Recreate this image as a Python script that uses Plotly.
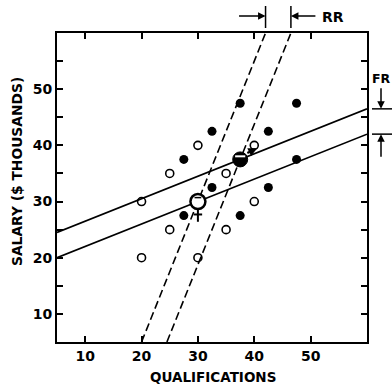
import plotly.graph_objects as go

# ---- data ----
female_q = [20, 20, 25, 25, 30, 30, 35, 35, 40, 40]
female_s = [30, 20, 35, 25, 40, 20, 35, 25, 40, 30]
male_q = [27.5, 27.5, 32.5, 32.5, 37.5, 37.5, 42.5, 42.5, 47.5, 47.5]
male_s = [37.5, 27.5, 42.5, 32.5, 47.5, 27.5, 42.5, 32.5, 47.5, 37.5]
female_mean = (30, 30)
male_mean = (37.5, 37.5)
slope_y_on_x = 0.4   # salary regressed on qualifications (solid)
slope_x_on_y = 0.4   # qualifications regressed on salary (dashed)
x_range = [5, 60]
y_range = [5, 60]
x_ticks = [10, 20, 30, 40, 50]
y_ticks = [10, 20, 30, 40, 50]
y_minor_ticks = [15, 25, 35, 45, 55]

FONT = "DejaVu Sans"
fig = go.Figure()

def solid(c):
    xs = x_range
    ys = [c[1] + slope_y_on_x * (x - c[0]) for x in xs]
    return xs, ys

def dashed(c):
    ys = y_range
    xs = [c[0] + slope_x_on_y * (y - c[1]) for y in ys]
    return xs, ys

for c in (female_mean, male_mean):
    xs, ys = solid(c)
    fig.add_trace(go.Scatter(x=xs, y=ys, mode="lines",
                             line=dict(color="black", width=1.6), hoverinfo="skip"))
    xs, ys = dashed(c)
    fig.add_trace(go.Scatter(x=xs, y=ys, mode="lines",
                             line=dict(color="black", width=1.6, dash="8px,4px"), hoverinfo="skip"))

fig.add_trace(go.Scatter(x=female_q, y=female_s, mode="markers",
                         marker=dict(symbol="circle-open", size=8, color="black",
                                     line=dict(width=1.6))))
fig.add_trace(go.Scatter(x=male_q, y=male_s, mode="markers",
                         marker=dict(symbol="circle", size=9, color="black")))

# female symbol
fx, fy = female_mean
fig.add_trace(go.Scatter(x=[fx], y=[fy], mode="markers",
                         marker=dict(symbol="circle", size=15, color="white",
                                     line=dict(width=2.5, color="black"))))
fig.add_trace(go.Scatter(x=[fx, fx, None, fx - 0.75, fx + 0.75],
                         y=[fy - 1.35, fy - 3.6, None, fy - 2.3, fy - 2.3],
                         mode="lines", line=dict(color="black", width=2)))
fig.add_trace(go.Scatter(x=[fx - 0.6, fx + 0.6], y=[fy + 0.7, fy + 0.7], mode="lines",
                         line=dict(color="black", width=1.5)))

# male symbol
mx, my = male_mean
fig.add_trace(go.Scatter(x=[mx], y=[my], mode="markers",
                         marker=dict(symbol="circle", size=15, color="black",
                                     line=dict(width=1, color="black"))))
fig.add_trace(go.Scatter(x=[mx - 0.9, mx + 0.9], y=[my + 0.55, my + 0.55], mode="lines",
                         line=dict(color="white", width=2)))

# invisible trace to carry the right-hand tick axis
fig.add_trace(go.Scatter(x=[None], y=[None], yaxis="y2", showlegend=False))

annotations = [
    dict(x=mx + 3.0, y=my + 2.0, ax=mx + 1.0, ay=my + 1.0, axref="x", ayref="y",
         xref="x", yref="y", text="", showarrow=True, arrowhead=2, arrowsize=0.8,
         arrowwidth=2.2, arrowcolor="black"),
]

def px_x(p):
    return (p - 57) / 310.0

def px_y(p):
    return (342 - p) / 309.0

# RR marks
top_left_x = female_mean[0] + slope_x_on_y * (y_range[1] - female_mean[1])
top_right_x = male_mean[0] + slope_x_on_y * (y_range[1] - male_mean[1])
shapes = []
for xv in (top_left_x, top_right_x):
    shapes.append(dict(type="line", xref="x", yref="paper", x0=xv, x1=xv,
                       y0=px_y(28), y1=px_y(6), line=dict(color="black", width=1.5)))
annotations += [
    dict(x=top_left_x, y=px_y(16), xref="x", yref="paper", ax=-28, ay=0,
         text="", showarrow=True, arrowhead=2, arrowsize=1, arrowwidth=1.5, arrowcolor="black"),
    dict(x=top_right_x, y=px_y(16), xref="x", yref="paper", ax=26, ay=0,
         text="", showarrow=True, arrowhead=2, arrowsize=1, arrowwidth=1.5, arrowcolor="black"),
    dict(x=px_x(320), y=px_y(17), xref="paper", yref="paper", text="<b>RR</b>", showarrow=False,
         xanchor="left", yanchor="middle", font=dict(family=FONT, size=14, color="black")),
]

# FR marks
right_hi = male_mean[1] + slope_y_on_x * (x_range[1] - male_mean[0])
right_lo = female_mean[1] + slope_y_on_x * (x_range[1] - female_mean[0])
for yv in (right_hi, right_lo):
    shapes.append(dict(type="line", xref="paper", yref="y", x0=px_x(372), x1=px_x(395),
                       y0=yv, y1=yv, line=dict(color="black", width=1.5)))
annotations += [
    dict(x=px_x(381), y=right_hi, xref="paper", yref="y", ax=0, ay=-22,
         text="", showarrow=True, arrowhead=2, arrowsize=1, arrowwidth=1.5, arrowcolor="black"),
    dict(x=px_x(381), y=right_lo, xref="paper", yref="y", ax=0, ay=24,
         text="", showarrow=True, arrowhead=2, arrowsize=1, arrowwidth=1.5, arrowcolor="black"),
    dict(x=px_x(371), y=px_y(78), xref="paper", yref="paper", text="<b>FR</b>", showarrow=False,
         xanchor="left", yanchor="middle", borderpad=0,
         font=dict(family=FONT, size=12.5, color="black")),
]

# axis titles
annotations += [
    dict(x=px_x(213), y=px_y(377), xref="paper", yref="paper", text="<b>QUALIFICATIONS</b>",
         xanchor="center", yanchor="middle",
         showarrow=False, font=dict(family=FONT, size=13.5, color="black")),
    dict(x=px_x(17), y=px_y(172), xref="paper", yref="paper",
         text="<b>SALARY ($ THOUSANDS)</b>", textangle=-90,
         xanchor="center", yanchor="middle",
         showarrow=False, font=dict(family=FONT, size=13.8, color="black")),
]

axis_common = dict(showgrid=False, zeroline=False, showline=True, linecolor="black",
                   linewidth=2, mirror="ticks", ticks="inside", ticklen=6, tickwidth=1.5,
                   tickcolor="black",
                   tickfont=dict(family=FONT, size=14, color="black", weight="bold"))

fig.update_layout(
    width=392, height=385,
    margin=dict(l=57, r=25, t=33, b=43),
    paper_bgcolor="white", plot_bgcolor="white",
    font=dict(family=FONT, color="black"),
    showlegend=False,
    xaxis=dict(range=x_range, tickvals=x_ticks, **axis_common),
    yaxis=dict(range=y_range, tickvals=y_ticks,
               minor=dict(tickvals=y_minor_ticks, ticks="inside", ticklen=6,
                          tickwidth=1.5, tickcolor="black"),
               **axis_common),
    yaxis2=dict(range=y_range, overlaying="y", side="right", showgrid=False,
                zeroline=False, showline=False, ticks="inside", ticklen=6,
                tickwidth=1.5, tickcolor="black", showticklabels=False,
                tickvals=y_ticks + y_minor_ticks),
    shapes=shapes,
    annotations=annotations,
)

fig.write_html("out.html")
